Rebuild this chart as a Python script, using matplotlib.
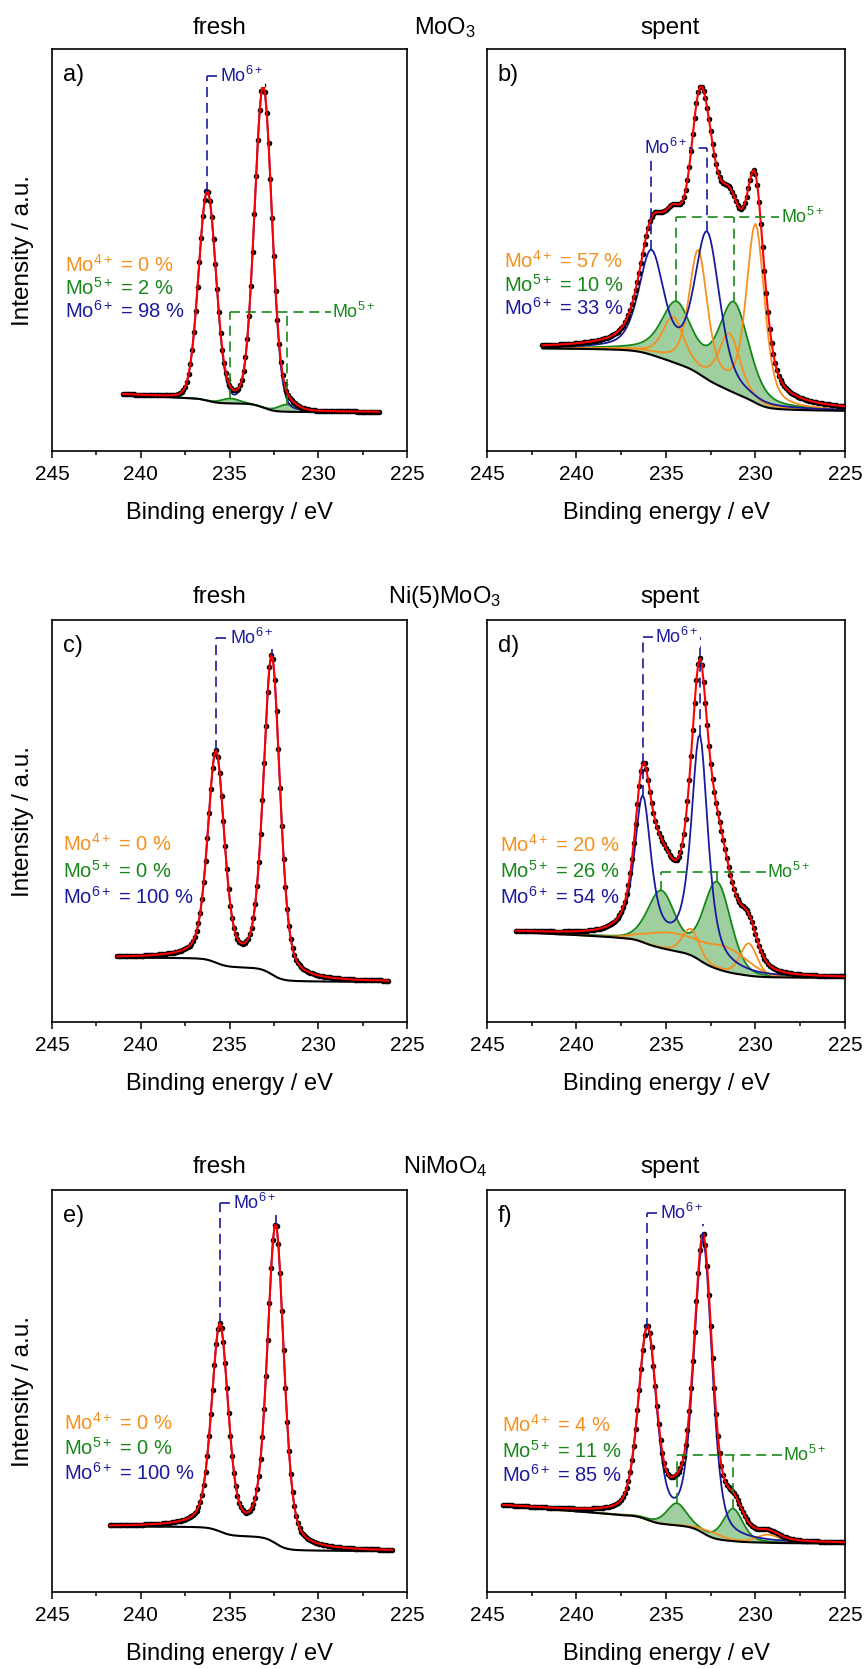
import numpy as np
import matplotlib.pyplot as plt
from matplotlib.ticker import MultipleLocator

plt.rcParams['font.family'] = ['Liberation Sans', 'DejaVu Sans']
plt.rcParams['mathtext.fontset'] = 'custom'
plt.rcParams['mathtext.rm'] = 'Liberation Sans'
plt.rcParams['mathtext.it'] = 'Liberation Sans:italic'
plt.rcParams['mathtext.bf'] = 'Liberation Sans:bold'
plt.rcParams['mathtext.default'] = 'regular'

# Mo 3d fit results. Each doublet lists the 3d5/2 and 3d3/2 lines as
# (centre / eV, height / a.u., FWHM / eV, Lorentz fraction).
# Background: Shirley between (high BE level, low BE level) plus a linear tilt
# (a.u. per eV) on the high BE side.

# a) MoO3 fresh
a_range = (241.0, 226.6)
a_bg = (13.2, 9.7, 0.25)
a_mo6 = [(233.10, 80.0, 1.15, 0.1), (236.25, 52.0, 1.15, 0.1)]
a_mo5 = [(231.75, 1.8, 1.2, 0.1), (234.95, 1.2, 1.2, 0.1)]
a_mo4 = []
a_pct = [0, 2, 98]

# b) MoO3 spent
b_range = (241.9, 225.0)
b_bg = (25.5, 10.0, 0.0)
b_mo6 = [(232.70, 36.0, 1.65, 0.5), (235.82, 25.0, 1.65, 0.5)]
b_mo5 = [(231.20, 22.0, 2.0, 0.5), (234.42, 14.5, 2.0, 0.5)]
b_mo4 = [[(230.00, 44.0, 1.2, 0.5), (233.20, 30.0, 1.2, 0.5)],
         [(231.45, 14.0, 1.4, 0.5), (234.60, 11.0, 1.4, 0.5)]]
b_pct = [57, 10, 33]

# c) Ni(5)MoO3 fresh
c_range = (241.35, 226.05)
c_bg = (16.0, 10.0, 0.0)
c_mo6 = [(232.62, 79.0, 1.1, 0.4), (235.76, 52.0, 1.1, 0.4)]
c_mo5 = []
c_mo4 = []
c_pct = [0, 0, 100]

# d) Ni(5)MoO3 spent
d_range = (243.4, 225.0)
d_bg = (21.2, 11.0, 0.2)
d_mo6 = [(233.12, 55.5, 1.1, 0.7), (236.30, 35.5, 1.1, 0.7)]
d_mo5 = [(232.15, 21.5, 1.8, 0.2), (235.26, 14.0, 1.8, 0.2)]
d_mo4 = [[(230.38, 8.0, 1.1, 0.3), (233.62, 6.5, 1.1, 0.3)],
         [(231.70, 6.0, 3.0, 0.0), (234.85, 4.0, 3.0, 0.0)]]
d_pct = [20, 26, 54]

# e) NiMoO4 fresh
e_range = (241.75, 225.85)
e_bg = (16.3, 10.2, 0.0)
e_mo6 = [(232.40, 79.0, 1.1, 0.4), (235.54, 51.0, 1.1, 0.4)]
e_mo5 = []
e_mo4 = []
e_pct = [0, 0, 100]

# f) NiMoO4 spent
f_range = (244.1, 225.0)
f_bg = (19.3, 12.1, 0.33)
f_mo6 = [(232.93, 72.0, 1.2, 0.4), (236.04, 47.0, 1.2, 0.4)]
f_mo5 = [(231.25, 8.0, 1.3, 0.4), (234.40, 5.4, 1.3, 0.4)]
f_mo4 = [[(229.30, 2.0, 1.5, 0.4), (232.45, 1.3, 1.5, 0.4)]]
f_pct = [4, 11, 85]

col_titles = ['fresh', 'spent']
row_titles = ['MoO$_3$', 'Ni(5)MoO$_3$', 'NiMoO$_4$']
letters = ['a)', 'b)', 'c)', 'd)', 'e)', 'f)']
species = ['Mo$^{4+}$', 'Mo$^{5+}$', 'Mo$^{6+}$']

ORANGE = '#f5901e'
GREEN = '#17871a'
BLUE = '#1a1a9c'
TILT_FROM = 237.5


def pv(e, c, h, w, eta):
    # pseudo-Voigt (Gauss/Lorentz sum)
    x = (e - c) / w
    return h * ((1 - eta) * np.exp(-4 * np.log(2) * x ** 2) + eta / (1 + 4 * x ** 2))


def doublet(e, peaks):
    y = np.zeros_like(e)
    for c, h, w, eta in peaks:
        y += pv(e, c, h, w, eta)
    return y


def background(e, total, hi, lo, tilt):
    # Shirley step; energy runs high -> low, so integrate from the low BE end
    s = total[::-1]
    cum = np.concatenate([[0.0], np.cumsum((s[1:] + s[:-1]) / 2)])[::-1]
    return lo + (hi - lo) * cum / cum[0] + tilt * np.clip(e - TILT_FROM, 0, None)


panels = [
    dict(rng=a_range, bg=a_bg, mo6=a_mo6, mo5=a_mo5, mo4=a_mo4, pct=a_pct,
         b6=(93.3, 234.3), b5=(34.5, 228.0), tx=0.037, ty=[46.2, 40.6, 34.8]),
    dict(rng=b_range, bg=b_bg, mo6=b_mo6, mo5=b_mo5, mo4=b_mo4, pct=b_pct,
         b6=(75.3, 235.0), b5=(58.1, 227.4), tx=0.047, ty=[47.4, 41.3, 35.6]),
    dict(rng=c_range, bg=c_bg, mo6=c_mo6, mo5=c_mo5, mo4=c_mo4, pct=c_pct,
         b6=(95.6, 233.75), b5=None, tx=0.032, ty=[44.3, 37.7, 31.2]),
    dict(rng=d_range, bg=d_bg, mo6=d_mo6, mo5=d_mo5, mo4=d_mo4, pct=d_pct,
         b6=(95.8, 234.4), b5=(37.3, 228.15), tx=0.037, ty=[44.1, 37.7, 31.2]),
    dict(rng=e_range, bg=e_bg, mo6=e_mo6, mo5=e_mo5, mo4=e_mo4, pct=e_pct,
         b6=(96.7, 233.6), b5=None, tx=0.033, ty=[42.1, 35.9, 29.7]),
    dict(rng=f_range, bg=f_bg, mo6=f_mo6, mo5=f_mo5, mo4=f_mo4, pct=f_pct,
         b6=(94.3, 234.15), b5=(34.1, 227.25), tx=0.042, ty=[41.6, 35.0, 29.1]),
]


def bracket(ax, e, bg, comp, peaks, y, label_e, color, label, to_label=False):
    tops = [np.interp(pk[0], e[::-1], (bg + comp)[::-1]) for pk in peaks]
    xs = [pk[0] for pk in peaks]
    kw = dict(color=color, lw=1.2, ls=(0, (6, 3.5)), zorder=6)
    for x0, t in zip(xs, tops):
        ax.plot([x0, x0], [t, y], **kw)
    right = label_e if to_label else min(xs)
    ax.plot([max(xs), right], [y, y], **kw)
    ax.text(label_e, y, label, color=color, fontsize=13, ha='center', va='center', zorder=7,
            bbox=dict(facecolor='white', edgecolor='none', pad=1.0))


fig = plt.figure(figsize=(8.64, 16.69), dpi=100)
H = 1669.0
W = 864.0
rows_top = [49, 620, 1190]
cols = [(52, 355), (487, 358)]

for i, p in enumerate(panels):
    r, c = divmod(i, 2)
    left, width = cols[c]
    ax = fig.add_axes([left / W, 1 - (rows_top[r] + 402) / H, width / W, 402 / H])

    e = np.arange(p['rng'][0], p['rng'][1] - 1e-6, -0.1)
    mo6 = doublet(e, p['mo6'])
    mo5 = doublet(e, p['mo5'])
    mo4 = [doublet(e, d) for d in p['mo4']]
    total = mo6 + mo5 + sum(mo4, np.zeros_like(e))
    bg = background(e, total, *p['bg'])
    fit = bg + total

    if p['mo5']:
        ax.fill_between(e, bg, bg + mo5, color=(0.25, 0.62, 0.25), alpha=0.5, lw=0, zorder=1)
        ax.plot(e, bg + mo5, color=GREEN, lw=1.3, zorder=2)
    for m in mo4:
        ax.plot(e, bg + m, color=ORANGE, lw=1.3, zorder=2)
    ax.plot(e, bg + mo6, color=BLUE, lw=1.3, zorder=2)
    ax.plot(e, bg, color='black', lw=1.5, zorder=3)
    ax.plot(e, fit, 'o', color='black', ms=4, mec='none', zorder=4)
    ax.plot(e, fit, color='red', lw=1.5, zorder=5)

    bracket(ax, e, bg, mo6, p['mo6'], p['b6'][0], p['b6'][1], BLUE, 'Mo$^{6+}$')
    if p['b5'] is not None:
        bracket(ax, e, bg, mo5, p['mo5'], p['b5'][0], p['b5'][1], GREEN, 'Mo$^{5+}$',
                to_label=True)

    for sp, pc, col, yy in zip(species, p['pct'], [ORANGE, GREEN, BLUE], p['ty']):
        ax.text(p['tx'], yy / 100, '%s = %d %%' % (sp, pc), transform=ax.transAxes,
                color=col, fontsize=14.5, ha='left', va='center')

    ax.text(0.03, 0.935, letters[i], transform=ax.transAxes, fontsize=17,
            ha='left', va='center')

    ax.set_xlim(245, 225)
    ax.set_ylim(0, 100)
    ax.xaxis.set_major_locator(MultipleLocator(5))
    ax.xaxis.set_minor_locator(MultipleLocator(2.5))
    ax.tick_params(axis='x', which='major', direction='out', length=5, width=1.1,
                   labelsize=15, pad=5)
    ax.tick_params(axis='x', which='minor', direction='out', length=3, width=1.1)
    ax.set_yticks([])
    for s in ax.spines.values():
        s.set_linewidth(1.2)
    ax.set_xlabel('Binding energy / eV', fontsize=17)
    ax.xaxis.label.set_va('center')
    ax.xaxis.set_label_coords(0.5, -62 / 402)

    if c == 0:
        fig.text(23 / W, 1 - (rows_top[r] + 201) / H, 'Intensity / a.u.', rotation=90,
                 fontsize=17.5, ha='center', va='center')

title_y = [28, 597, 1167]
for r in range(3):
    y = 1 - title_y[r] / H
    fig.text(220 / W, y, col_titles[0], fontsize=17.5, ha='center', va='center')
    fig.text(670 / W, y, col_titles[1], fontsize=17.5, ha='center', va='center')
    fig.text(445 / W, y, row_titles[r], fontsize=17, ha='center', va='center')

fig.savefig('out.png', dpi=100)
